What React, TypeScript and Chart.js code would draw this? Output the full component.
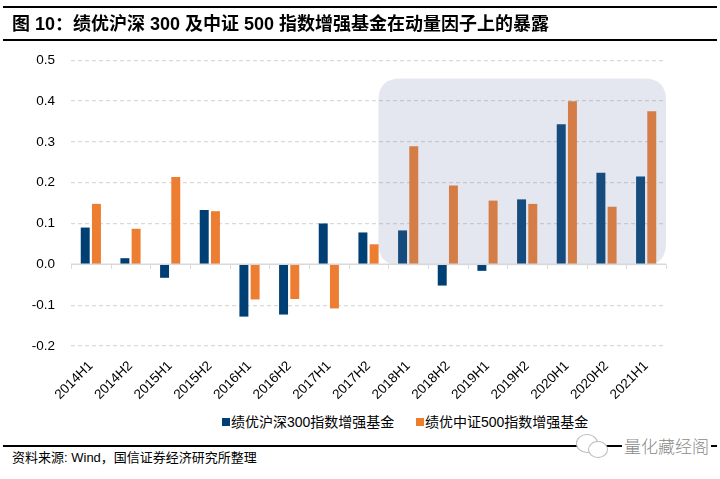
import React, { useEffect, useRef } from "react";
import { Chart, registerables } from "chart.js";

Chart.register(...registerables);

const categories = [
  "2014H1", "2014H2", "2015H1", "2015H2", "2016H1", "2016H2", "2017H1", "2017H2",
  "2018H1", "2018H2", "2019H1", "2019H2", "2020H1", "2020H2", "2021H1",
];
const hs300Values = [
  0.090, 0.015, -0.033, 0.133, -0.128, -0.123, 0.100, 0.078,
  0.083, -0.052, -0.016, 0.159, 0.343, 0.224, 0.215,
];
const zz500Values = [
  0.148, 0.087, 0.214, 0.130, -0.086, -0.085, -0.108, 0.049,
  0.289, 0.193, 0.156, 0.148, 0.399, 0.141, 0.375,
];
const seriesNames = ["绩优沪深300指数增强基金", "绩优中证500指数增强基金"];
const seriesColors = ["#003F73", "#ED7D31"];
const yMin = -0.2;
const yMax = 0.5;
const yStep = 0.1;
// highlighted region: from inside 2017H2 to the end, up to this value
const highlightStartIndex = 7.25;
const highlightTop = 0.455;

const sansFont = '"Liberation Sans", Arial, "Noto Sans CJK SC", sans-serif';

const overlayPlugin = {
  id: "overlayAndAxis",
  afterDatasetsDraw(chart: any) {
    const { ctx, chartArea, scales } = chart;
    const xs = scales.x;
    const ys = scales.y;
    const left = xs.getPixelForValue(highlightStartIndex);
    const right = chartArea.right;
    const top = ys.getPixelForValue(highlightTop);
    const bottom = ys.getPixelForValue(0) + 1;
    const r = 22;
    ctx.save();
    ctx.beginPath();
    ctx.moveTo(left + r, top);
    ctx.lineTo(right - r, top);
    ctx.quadraticCurveTo(right, top, right, top + r);
    ctx.lineTo(right, bottom - r);
    ctx.quadraticCurveTo(right, bottom, right - r, bottom);
    ctx.lineTo(left + r, bottom);
    ctx.quadraticCurveTo(left, bottom, left, bottom - r);
    ctx.lineTo(left, top + r);
    ctx.quadraticCurveTo(left, top, left + r, top);
    ctx.closePath();
    ctx.fillStyle = "rgba(112,128,172,0.19)";
    ctx.fill();
    ctx.restore();

    const y0 = ys.getPixelForValue(0);
    ctx.save();
    ctx.strokeStyle = "#D9D9D9";
    ctx.lineWidth = 1.5;
    ctx.beginPath();
    ctx.moveTo(chartArea.left, y0);
    ctx.lineTo(chartArea.right, y0);
    ctx.stroke();
    ctx.lineWidth = 1;
    for (let i = 0; i <= categories.length; i++) {
      const x = Math.round(xs.getPixelForValue(i - 0.5)) + 0.5;
      ctx.beginPath();
      ctx.moveTo(x, y0);
      ctx.lineTo(x, y0 + 4.5);
      ctx.stroke();
    }
    ctx.restore();
  },
};

function BarChart() {
  const ref = useRef<HTMLCanvasElement | null>(null);
  useEffect(() => {
    if (!ref.current) return;
    const chart = new Chart(ref.current, {
      type: "bar",
      data: {
        labels: categories,
        datasets: [
          {
            label: seriesNames[0],
            data: hs300Values,
            backgroundColor: seriesColors[0],
            categoryPercentage: 0.565,
            barPercentage: 0.8,
          },
          {
            label: seriesNames[1],
            data: zz500Values,
            backgroundColor: seriesColors[1],
            categoryPercentage: 0.565,
            barPercentage: 0.8,
          },
        ],
      },
      options: {
        responsive: false,
        animation: false,
        devicePixelRatio: 1,
        layout: { padding: { top: 5, right: 54, left: 0, bottom: 0 } },
        plugins: {
          legend: { display: false },
          tooltip: { enabled: false },
          title: { display: false },
        },
        scales: {
          x: {
            position: "bottom",
            grid: { display: false },
            border: { display: false },
            ticks: {
              minRotation: 45,
              maxRotation: 45,
              padding: 4,
              color: "#000",
              font: { family: sansFont, size: 13.5 },
            },
            afterFit: (scale: any) => {
              scale.height = 59;
            },
          },
          y: {
            min: yMin,
            max: yMax,
            grid: {
              color: (c: any) => (c.tick && Math.abs(c.tick.value) < 1e-9 ? "rgba(0,0,0,0)" : "#D9D9D9"),
              lineWidth: 1.2,
              drawTicks: false,
            },
            border: { display: false, dash: [4, 3] },
            ticks: {
              stepSize: yStep,
              padding: 16,
              color: "#000",
              font: { family: sansFont, size: 13.5 },
              callback: (v: any) => (Math.abs(Number(v)) < 1e-9 ? "0.0" : Number(v).toFixed(1)),
            },
            afterFit: (scale: any) => {
              scale.width = 71;
            },
          },
        },
      },
      plugins: [overlayPlugin],
    });
    return () => chart.destroy();
  }, []);
  return (
    <canvas
      ref={ref}
      width={720}
      height={369}
      style={{ position: "absolute", left: 0, top: 36, width: 720, height: 369 }}
    />
  );
}

export default function App() {
  const cjk = '"Liberation Sans", Arial, "Noto Sans CJK SC", sans-serif';
  return (
    <div
      style={{
        position: "absolute",
        left: 0,
        top: 0,
        width: 720,
        height: 479,
        background: "#fff",
        overflow: "hidden",
        fontFamily: cjk,
      }}
    >
      <BarChart />
      <div style={{ position: "absolute", left: 3, right: 3, top: 6, height: 2, background: "#000" }} />
      <div
        style={{
          position: "absolute",
          left: 12,
          top: 11,
          fontSize: 18,
          fontWeight: "bold",
          lineHeight: "26px",
          whiteSpace: "nowrap",
          color: "#000",
        }}
      >
        图 10：绩优沪深 300 及中证 500 指数增强基金在动量因子上的暴露
      </div>
      <div style={{ position: "absolute", left: 3, right: 3, top: 39, height: 2, background: "#000" }} />
      {/* legend */}
      <div style={{ position: "absolute", left: 222, top: 418, width: 8, height: 8, background: seriesColors[0] }} />
      <div style={{ position: "absolute", left: 231, top: 412, fontSize: 14, lineHeight: "20px", whiteSpace: "nowrap" }}>
        {seriesNames[0]}
      </div>
      <div style={{ position: "absolute", left: 416, top: 418, width: 8, height: 8, background: seriesColors[1] }} />
      <div style={{ position: "absolute", left: 425, top: 412, fontSize: 14, lineHeight: "20px", whiteSpace: "nowrap" }}>
        {seriesNames[1]}
      </div>
      {/* footer */}
      <div style={{ position: "absolute", left: 3, right: 3, top: 445, height: 1.5, background: "#000" }} />
      {/* watermark icon */}
      <div
        style={{
          position: "absolute",
          left: 576,
          top: 434,
          width: 20,
          height: 17,
          borderRadius: "50%",
          border: "1px solid #bbb",
          background: "#fff",
        }}
      />
      <div
        style={{
          position: "absolute",
          left: 588,
          top: 441,
          width: 18,
          height: 15,
          borderRadius: "50%",
          border: "1px solid #bbb",
          background: "#fff",
        }}
      />
      <div
        style={{
          position: "absolute",
          left: 622,
          top: 435,
          fontSize: 17,
          lineHeight: "22px",
          color: "#8a8a8a",
          background: "#fff",
          padding: "0 2px",
          whiteSpace: "nowrap",
          fontFamily: '"Noto Sans CJK SC", sans-serif',
          fontWeight: 300,
        }}
      >
        量化藏经阁
      </div>
      <div style={{ position: "absolute", left: 12, top: 449, fontSize: 13, lineHeight: "18px", whiteSpace: "nowrap" }}>
        资料来源: Wind，国信证券经济研究所整理
      </div>
    </div>
  );
}
